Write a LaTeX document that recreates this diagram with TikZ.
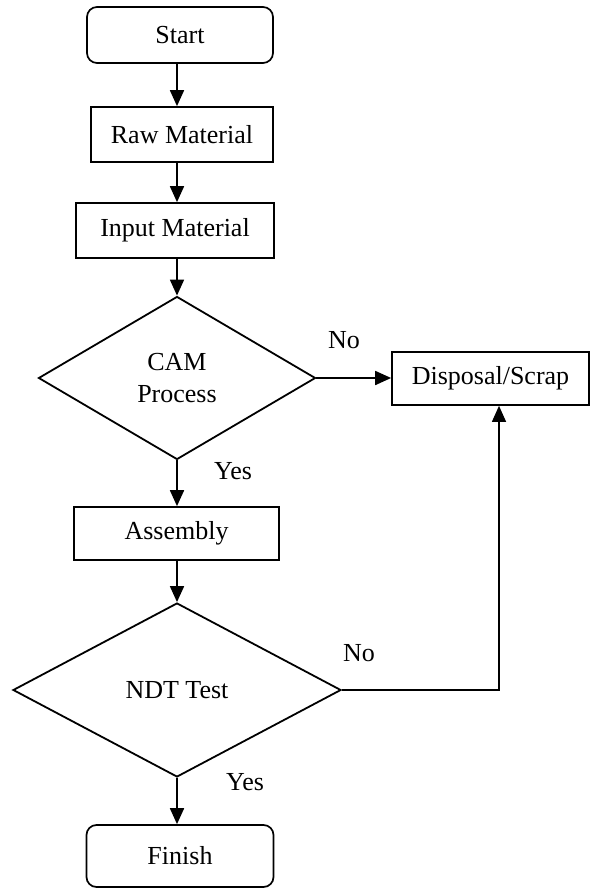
\documentclass[tikz,border=0pt]{standalone}
\usepackage{fontspec}
\setmainfont{Liberation Serif}
\usetikzlibrary{shapes.geometric,arrows.meta}
\tikzset{
  every node/.style={font=\fontsize{26}{32}\selectfont},
  box/.style={draw, line width=1.7pt, inner sep=0pt, align=center},
  term/.style={box, rounded corners=10pt},
  decision/.style={draw, shape=diamond, line width=1.8pt, inner sep=0pt, align=center},
  arr/.style={line width=1.8pt, -{Triangle[length=16pt,width=14pt]}},
  thinarr/.style={line width=1.2pt, -{Triangle[length=16pt,width=14pt]}},
}
\begin{document}
\begin{tikzpicture}[x=1pt,y=-1pt]
\useasboundingbox (0,0) rectangle (590,890);

% process steps
\node[term, minimum width=186pt, minimum height=56pt] (start) at (180,35) {Start};
\node[box, minimum width=182pt, minimum height=55pt] (raw) at (182,134.5) {Raw Material};
\node[box, minimum width=198pt, minimum height=55pt] (input) at (175,230.5) {Input Material};
\node[decision, minimum width=277pt, minimum height=163pt] (cam) at (177,378) {CAM\\Process};
\node[box, minimum width=197pt, minimum height=53pt] (scrap) at (490.5,378.5) {Disposal/Scrap};
\node[box, minimum width=205pt, minimum height=53pt] (assembly) at (176.5,533.5) {Assembly};
\node[decision, minimum width=328pt, minimum height=174pt] (ndt) at (177,690) {NDT Test};
\node[term, minimum width=187pt, minimum height=62pt] (finish) at (180,856) {Finish};

% branch labels
\node (no1) at (344,340) {No};
\node (yes1) at (233,471) {Yes};
\node (no2) at (359,653) {No};
\node (yes2) at (245,782) {Yes};

% main flow, kept on the vertical through the decision tips
\draw[arr] (start.south -| cam.north) -- (raw.north -| cam.north);
\draw[arr] (raw.south -| cam.north) -- (input.north -| cam.north);
\draw[arr] (input.south -| cam.north) -- (cam.north);
\draw[arr] (cam.south) -- (assembly.north -| cam.south);
\draw[arr] (assembly.south -| ndt.north) -- (ndt.north);
\draw[arr] (ndt.south) -- (finish.north -| ndt.south);

% rejection paths
\draw[arr] (cam.east) -- (cam.east -| scrap.west);
\coordinate (fb) at (499,690);
\draw[thinarr] (ndt.east) -- (fb) -- (fb |- scrap.south);
\end{tikzpicture}
\end{document}
